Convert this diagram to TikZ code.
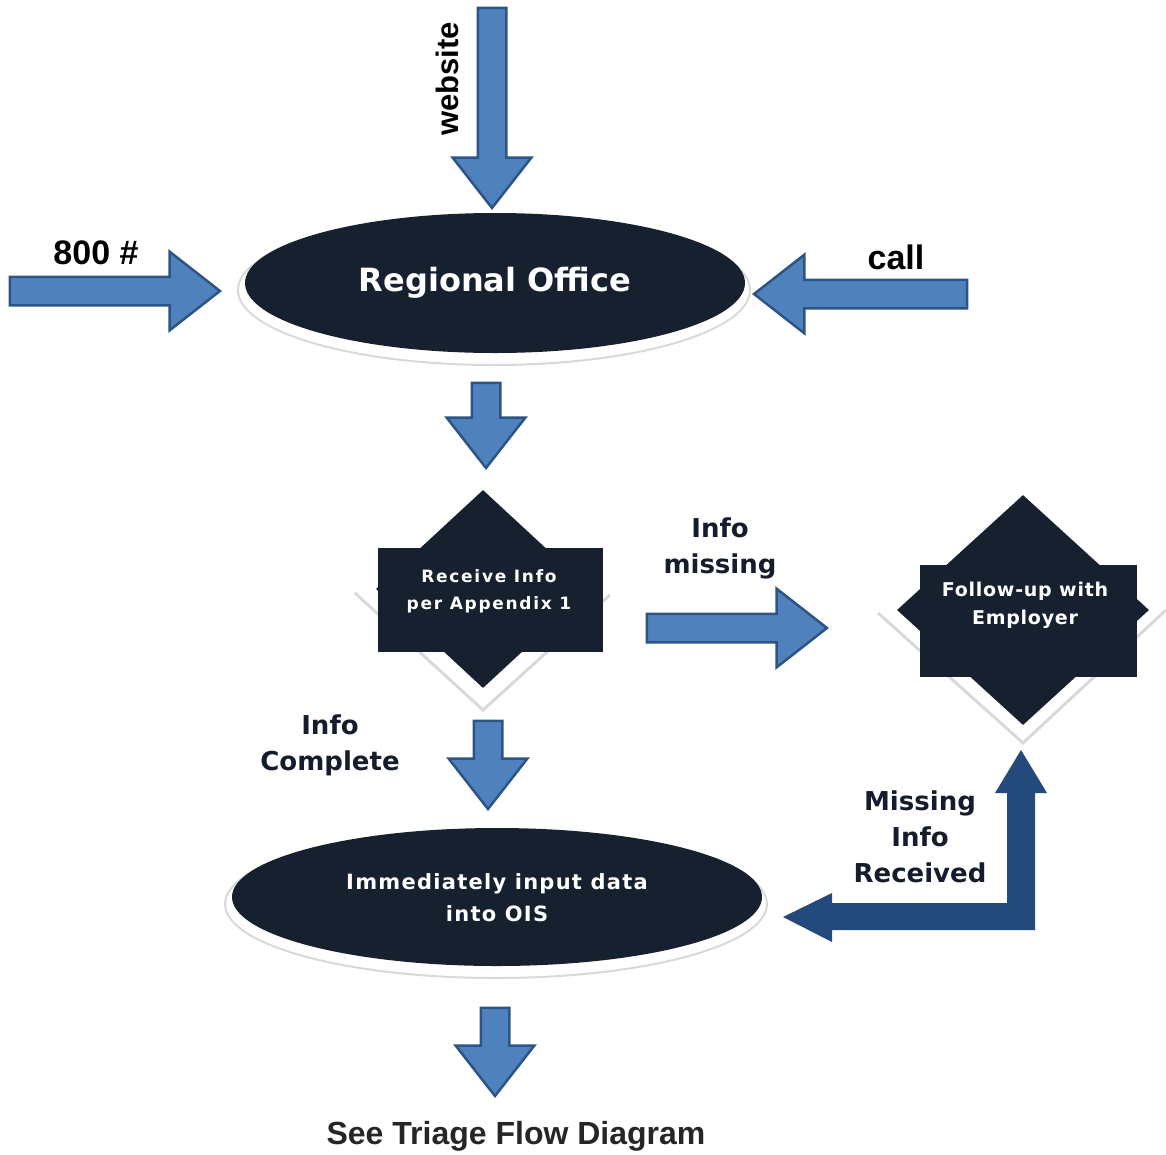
\documentclass[tikz,border=0pt]{standalone}
\usepackage{fontspec}
\setmainfont{Liberation Sans}
\newfontfamily\heavyfont{DejaVu Sans}
\usetikzlibrary{positioning,shapes.geometric,shapes.arrows}
\definecolor{navy}{HTML}{16202F}
\definecolor{arrowblue}{HTML}{4F81BD}
\definecolor{arrowedge}{HTML}{2C5486}
\definecolor{deepblue}{HTML}{24497B}
\definecolor{labelink}{HTML}{151C2C}

\begin{document}
\begin{tikzpicture}[x=1pt, y=-1pt,
    blockarrow/.style={single arrow, draw=arrowedge, fill=arrowblue, line width=2.5pt,
        inner xsep=0pt, inner ysep=13pt, single arrow head extend=25pt, single arrow tip angle=76},
    oval/.style={ellipse, fill=navy, inner sep=0pt, text=white, font=\heavyfont\bfseries},
    ovalshadow/.style={ellipse, draw=black!15, line width=2pt, fill=white, inner sep=0pt},
    gemshadow/.style={draw=black!15, line width=3pt},
    gem/.style={diamond, fill=navy, inner sep=0pt},
    gembox/.style={rectangle, fill=navy, inner sep=0pt},
    boxtext/.style={text=white, align=center},
    steplabel/.style={text=labelink, align=center, font=\heavyfont\bfseries\fontsize{26}{36}\selectfont},
    sourcelabel/.style={font=\bfseries\fontsize{34}{40}\selectfont}
]
\useasboundingbox (0,0) rectangle (1166,1154);

% inputs to the regional office
\node[ovalshadow, minimum width=512pt, minimum height=150pt] (officeshadow) at (494,290) {};
\node[oval, minimum width=500pt, minimum height=140pt, font=\heavyfont\bfseries\fontsize{32}{38}\selectfont] (office) at (495,283) {Regional Office};

\node[blockarrow, minimum height=200pt, rotate=-90, anchor=tip] (webarrow) at (492,210) {};
\node[sourcelabel, font=\bfseries\fontsize{31}{36}\selectfont, rotate=90] (weblabel) at (447,79) {website};
\node[blockarrow, minimum height=210pt, anchor=tip] (tollarrow) at (222,291) {};
\node[sourcelabel] (tolllabel) at (96,253) {800 \#};
\node[blockarrow, minimum height=213pt, rotate=180, anchor=tip] (callarrow) at (752,294) {};
\node[sourcelabel] (calllabel) at (896,257) {call};

\node[blockarrow, minimum height=85pt, rotate=-90, anchor=tip] (downone) at (486,470) {};

% receive info check
\draw[gemshadow] (355,593) -- (483,710) -- (610,595);
\node[gem, minimum width=214pt, minimum height=198pt] (receive) at (483,589) {};
\node[gembox, minimum width=225pt, minimum height=104pt] (receivebox) at (490,600) {};
\node[boxtext, font=\heavyfont\bfseries\fontsize{17}{27}\selectfont\addfontfeature{LetterSpace=10}] (receivetext) at (489,591) {Receive Info\\per Appendix 1};

\node[blockarrow, minimum height=180pt, anchor=tip] (missarrow) at (829,628) {};
\node[steplabel] (misslabel) at (720,548) {Info\\missing};

% follow-up
\draw[gemshadow] (878,613) -- (1023,743) -- (1166,610);
\node[gem, minimum width=252pt, minimum height=230pt] (follow) at (1023,610) {};
\node[gembox, minimum width=217pt, minimum height=112pt] (followbox) at (1028,621) {};
\node[boxtext, font=\heavyfont\bfseries\fontsize{19}{28}\selectfont\addfontfeature{LetterSpace=4}] (followtext) at (1025,605) {Follow-up with\\Employer};

\node[blockarrow, minimum height=88pt, rotate=-90, anchor=tip] (downtwo) at (488,811) {};
\node[steplabel] (completelabel) at (330,745) {Info\\Complete};

% data input
\node[ovalshadow, minimum width=542pt, minimum height=148pt] (inputshadow) at (496,904) {};
\node[oval, minimum width=530pt, minimum height=138pt] (input) at (497,897) {};
\node[boxtext, font=\heavyfont\bfseries\fontsize{21}{32}\selectfont\addfontfeature{LetterSpace=6}] (inputtext) at (497,898) {Immediately input data\\into OIS};

% return loop
\fill[deepblue] (1021,750) -- (1047,793) -- (1035,793) -- (1035,930) -- (832,930) -- (832,942)
    -- (783,917) -- (832,893) -- (832,903) -- (1007,903) -- (1007,793) -- (995,793) -- cycle;
\node[steplabel] (receivedlabel) at (920,837) {Missing\\Info\\Received};

\node[blockarrow, minimum height=88pt, rotate=-90, anchor=tip] (downthree) at (495,1098) {};
\node[font=\bfseries\fontsize{32}{38}\selectfont, text=black!85] (triage) at (516,1136) {See Triage Flow Diagram};
\end{tikzpicture}
\end{document}
